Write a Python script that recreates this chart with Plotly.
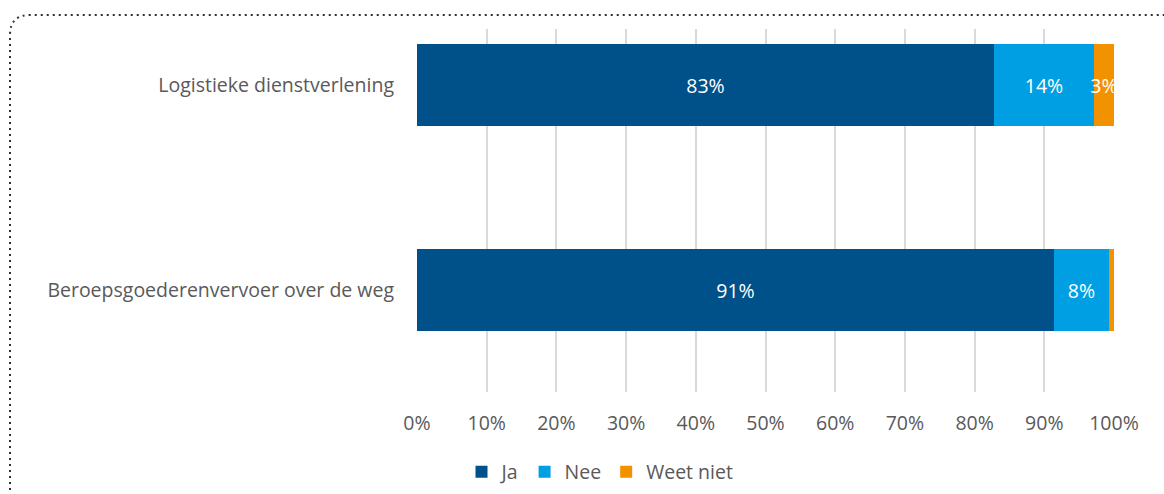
import plotly.graph_objects as go

# Survey answers per sector (share of respondents, %)
categories = ["Beroepsgoederenvervoer over de weg", "Logistieke dienstverlening"]
ja = [91.4, 82.8]
nee = [7.9, 14.3]
weet_niet = [0.7, 2.9]
tick_values = [0, 10, 20, 30, 40, 50, 60, 70, 80, 90, 100]
tick_labels = [f"{v}%" for v in tick_values]

series = [
    ("Ja", ja, "#00508A", ["%{x:.0f}%", "%{x:.0f}%"]),
    ("Nee", nee, "#009FE3", ["%{x:.0f}%", "%{x:.0f}%"]),
    ("Weet niet", weet_niet, "#F39200", ["", "%{x:.0f}%"]),
]

FONT = "Open Sans, sans-serif"
FS = 19.5
GREY_TEXT = "#595959"

fig = go.Figure()
for name, vals, color, tmpl in series:
    fig.add_trace(go.Bar(
        y=categories, x=vals, name=name, orientation="h",
        marker=dict(color=color, line=dict(width=0)),
        width=0.4,
        texttemplate=tmpl, textposition="inside", insidetextanchor="middle",
        textangle=0,
        textfont=dict(color="white", size=FS, family=FONT),
        cliponaxis=False,
        hoverinfo="skip",
    ))

# Plot area geometry in pixels, used to place the frame in paper units
L, R, T, B = 417, 1114, 29, 392
W, H = 1164, 494


def px(x):
    return (x - L) / (R - L)


def py(y):
    return (B - y) / (B - T)


frame = (
    f"M {px(10)} {py(520)} L {px(10)} {py(35)} "
    f"Q {px(10)} {py(15)} {px(30)} {py(15)} L {px(1180)} {py(15)}"
)

fig.update_layout(
    barmode="stack",
    width=W, height=H,
    margin=dict(l=L, r=W - R, t=T, b=H - B, pad=0, autoexpand=False),
    paper_bgcolor="white", plot_bgcolor="white",
    font=dict(family=FONT, size=FS, color=GREY_TEXT),
    uniformtext=dict(mode="show", minsize=FS),
    bargap=0,
    showlegend=True,
    legend=dict(
        orientation="h", x=px(600), xanchor="center", y=py(472), yanchor="middle",
        font=dict(size=FS, color=GREY_TEXT, family=FONT),
        itemwidth=30, traceorder="normal", bgcolor="rgba(0,0,0,0)",
    ),
    xaxis=dict(
        range=[0, 100], tickmode="array", tickvals=tick_values, ticktext=tick_labels,
        showgrid=True, gridcolor="#D9D9D9", gridwidth=1.5,
        zeroline=False, showline=False, ticks="", ticklabelstandoff=17,
        tickfont=dict(size=FS, color=GREY_TEXT, family=FONT), fixedrange=True,
    ),
    yaxis=dict(
        type="category", categoryorder="array", categoryarray=categories,
        range=[-0.498, 1.273], showgrid=False, zeroline=False, showline=False,
        ticks="", ticklabelstandoff=22,
        tickfont=dict(size=FS, color=GREY_TEXT, family=FONT), fixedrange=True,
    ),
    shapes=[dict(
        type="path", xref="paper", yref="paper", path=frame,
        line=dict(color="#303030", width=2, dash="2px,4px"), layer="above",
    )],
)

fig.write_html("out.html")
